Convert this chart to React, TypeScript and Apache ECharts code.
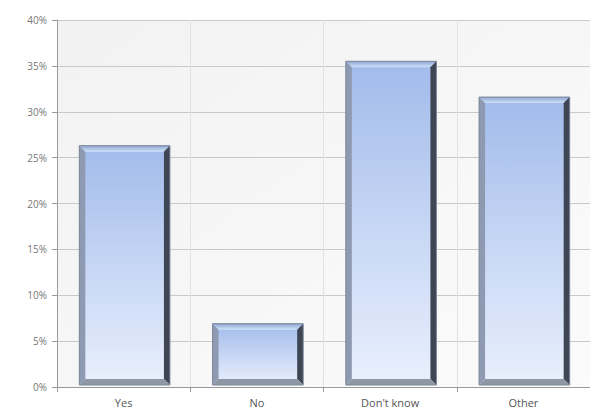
import React, { useEffect, useRef } from "react";
import * as echarts from "echarts";

const categories = ["Yes", "No", "Don't know", "Other"];
const values = [26.3, 6.9, 35.5, 31.6];
const yTicks = [0, 5, 10, 15, 20, 25, 30, 35, 40];

export default function App() {
  const ref = useRef<HTMLDivElement>(null);
  useEffect(() => {
    if (!ref.current) return;
    const chart = echarts.init(ref.current, undefined, { renderer: "svg" });
    const data = values.map((v, i) => [i, v]);
    chart.setOption({
      animation: false,
      backgroundColor: "#ffffff",
      grid: {
        left: 57,
        right: 0,
        top: 20,
        bottom: 25,
        show: true,
        borderWidth: 0,
        backgroundColor: {
          type: "linear",
          x: 0, y: 0, x2: 1, y2: 1,
          colorStops: [
            { offset: 0, color: "#f2f2f2" },
            { offset: 1, color: "#fbfbfb" },
          ],
        },
      },
      xAxis: {
        type: "category",
        data: categories,
        axisLine: { show: true, lineStyle: { color: "#9a9a9a", width: 1 } },
        axisTick: { show: true, length: 5, lineStyle: { color: "#9a9a9a" } },
        splitLine: { show: true, lineStyle: { color: "#e2e2e2", width: 1 } },
        axisLabel: {
          color: "#555",
          fontFamily: "Open Sans",
          fontSize: 11,
          margin: 10,
        },
      },
      yAxis: {
        type: "value",
        min: 0,
        max: 40,
        interval: 5,
        axisLine: { show: true, lineStyle: { color: "#9a9a9a", width: 1 } },
        axisTick: { show: true, length: 5, lineStyle: { color: "#9a9a9a" } },
        splitLine: { show: true, lineStyle: { color: "#c9c9c9", width: 1 } },
        axisLabel: {
          color: "#777",
          fontFamily: "Open Sans",
          fontSize: 10,
          margin: 10,
          formatter: (v: number) => (yTicks.includes(v) ? v + "%" : ""),
        },
      },
      series: [
        {
          type: "custom",
          data,
          encode: { x: 0, y: 1 },
          renderItem: (params: any, api: any) => {
            const xi = api.value(0);
            const v = api.value(1);
            const top = api.coord([xi, v]);
            const base = api.coord([xi, 0]);
            const band = api.size([1, 0])[0];
            const w = band * 0.68;
            const l = top[0] - w / 2 + 1;
            const r = top[0] + w / 2 + 1;
            const t = top[1];
            const b = base[1] - 2;
            const d = 6;
            return {
              type: "group",
              children: [
                {
                  type: "rect",
                  shape: { x: l, y: t, width: r - l, height: b - t },
                  style: {
                    fill: {
                      type: "linear",
                      x: 0, y: 0, x2: 0, y2: 1,
                      colorStops: [
                        { offset: 0, color: "#a2bbeb" },
                        { offset: 1, color: "#e9f0fd" },
                      ],
                    },
                  },
                },
                {
                  type: "polygon",
                  shape: { points: [[l, t], [l + d, t + d], [l + d, b - d], [l, b]] },
                  style: { fill: "#8d9ab2" },
                },
                {
                  type: "polygon",
                  shape: { points: [[l, t], [r, t], [r - d, t + d], [l + d, t + d]] },
                  style: {
                    fill: {
                      type: "linear",
                      x: 0, y: 0, x2: 0, y2: 1,
                      colorStops: [
                        { offset: 0, color: "#8fa6cf" },
                        { offset: 1, color: "#cfe2fb" },
                      ],
                    },
                  },
                },
                {
                  type: "polygon",
                  shape: { points: [[r, t], [r, b], [r - d, b - d], [r - d, t + d]] },
                  style: { fill: "#3e4553" },
                },
                {
                  type: "polygon",
                  shape: { points: [[l, b], [r, b], [r - d, b - d], [l + d, b - d]] },
                  style: { fill: "#8e97a5" },
                },
                {
                  type: "rect",
                  shape: { x: l, y: t, width: r - l, height: b - t },
                  style: { fill: "none", stroke: "#7d8697", lineWidth: 1 },
                },
              ],
            };
          },
        },
      ],
    });
    return () => chart.dispose();
  }, []);
  return (
    <div
      ref={ref}
      style={{ position: "absolute", left: 0, top: 0, width: 590, height: 412 }}
    />
  );
}
